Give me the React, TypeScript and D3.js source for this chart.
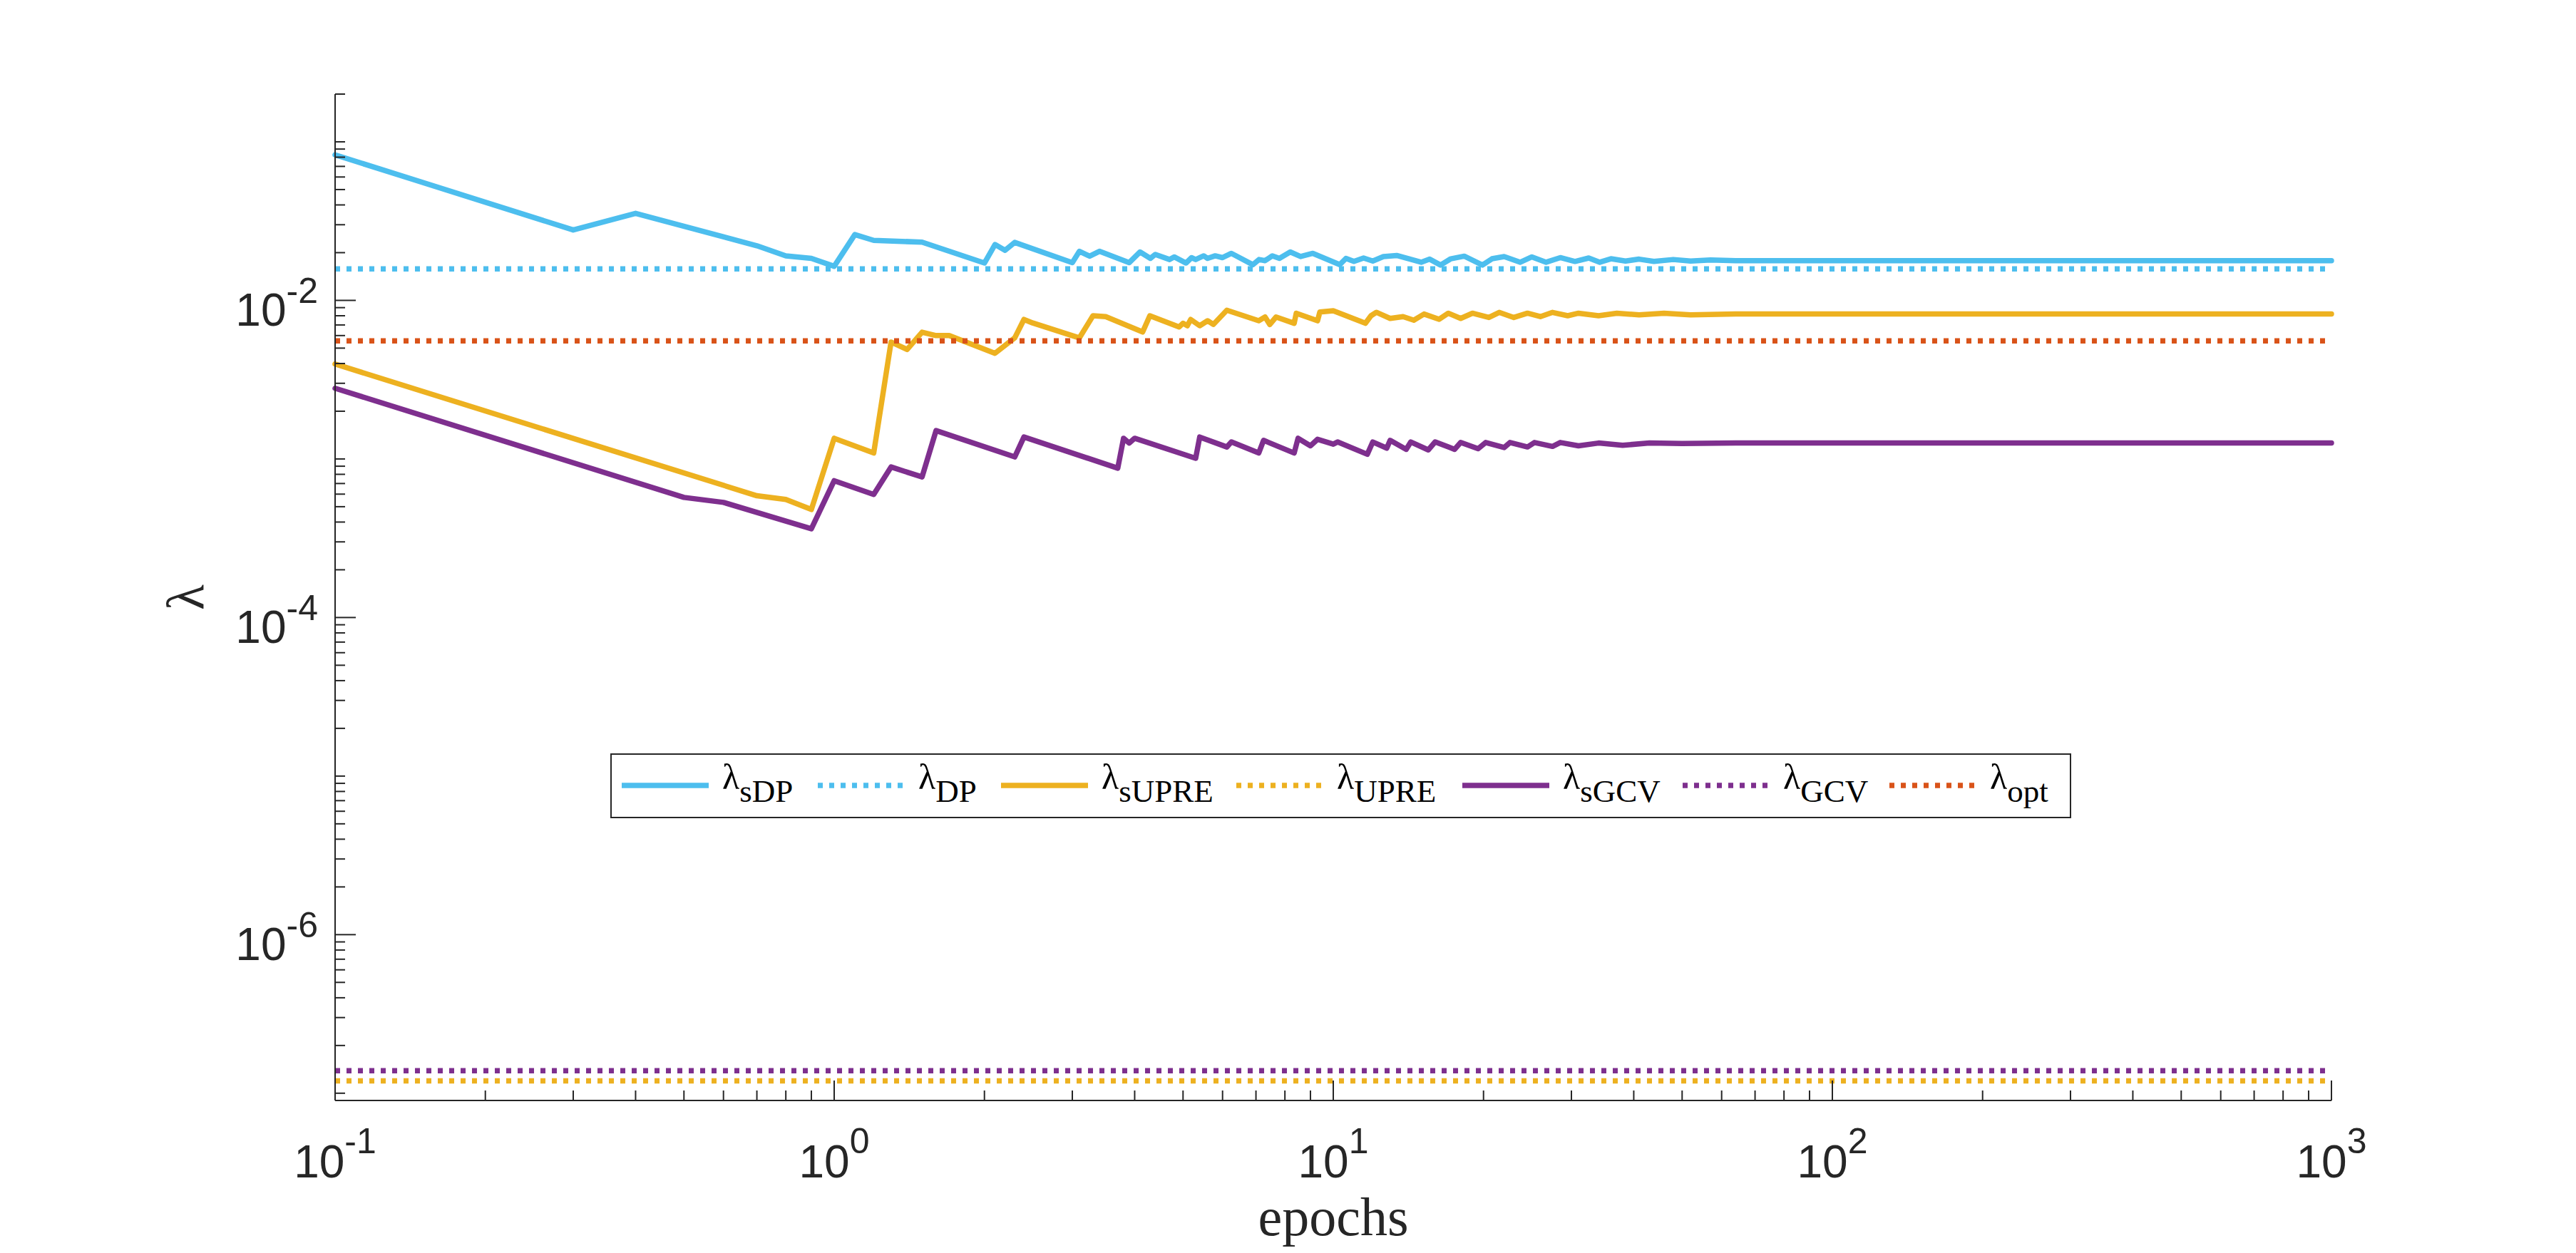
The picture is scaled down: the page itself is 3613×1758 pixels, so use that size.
import React from 'react';
import * as d3 from 'd3';

const W = 3613;
const H = 1758;

// lambda_sDP (solid, blue)
const sdpEpochs = [0.1, 0.3, 0.4, 0.7, 0.8, 0.9, 1.0, 1.1, 1.2, 1.5, 2.0, 2.1, 2.2, 2.3, 3.0, 3.1, 3.25, 3.4, 3.9, 4.1, 4.3, 4.4, 4.7, 4.8, 5.07, 5.2, 5.3, 5.5, 5.6, 5.8, 6.0, 6.25, 6.9, 7.1, 7.3, 7.55, 7.8, 8.2, 8.6, 9.1, 10.3, 10.6, 11.0, 11.5, 12.0, 12.6, 13.4, 15.0, 15.6, 16.4, 17.2, 18.3, 19.9, 20.8, 22.0, 23.7, 25.0, 26.7, 28.5, 30.5, 32.5, 34.2, 36, 38.5, 41, 43.9, 48, 52, 57, 64, 100, 1000];
const sdpValues = [0.0828, 0.0278, 0.0354, 0.0221, 0.0191, 0.0184, 0.0164, 0.026, 0.0239, 0.0233, 0.0172, 0.0225, 0.0207, 0.0232, 0.0173, 0.0204, 0.019, 0.0204, 0.0173, 0.0202, 0.0184, 0.0195, 0.0181, 0.0188, 0.0172, 0.0186, 0.0181, 0.0191, 0.0184, 0.0191, 0.0186, 0.0198, 0.0168, 0.0181, 0.0178, 0.0191, 0.0184, 0.0202, 0.0189, 0.0198, 0.0168, 0.0184, 0.0176, 0.0185, 0.0177, 0.0189, 0.0192, 0.0174, 0.0182, 0.0167, 0.0183, 0.019, 0.0167, 0.0183, 0.0189, 0.0174, 0.0188, 0.0174, 0.0186, 0.0176, 0.0185, 0.0174, 0.0183, 0.0177, 0.0182, 0.0176, 0.0181, 0.0177, 0.018, 0.0178, 0.0178, 0.0178];

// lambda_sUPRE (solid, yellow)
const supreEpochs = [0.1, 0.7, 0.8, 0.9, 1.0, 1.2, 1.3, 1.4, 1.5, 1.6, 1.7, 2.1, 2.3, 2.4, 2.5, 3.1, 3.3, 3.5, 4.15, 4.29, 4.91, 5.0, 5.1, 5.18, 5.4, 5.6, 5.75, 6.12, 7.09, 7.3, 7.46, 7.68, 8.35, 8.43, 9.3, 9.4, 10.0, 11.6, 11.9, 12.2, 13.0, 13.8, 14.5, 15.2, 16.3, 17.0, 18.0, 19.0, 20.5, 21.5, 23.0, 24.5, 26.0, 27.5, 29.5, 31, 34, 37, 41, 46, 52, 64, 100, 1000];
const supreValues = [0.00397, 0.000586, 0.000555, 0.00048, 0.00135, 0.00109, 0.00546, 0.0049, 0.0063, 0.006, 0.006, 0.00464, 0.0058, 0.00758, 0.0072, 0.0058, 0.008, 0.0079, 0.00632, 0.008, 0.0068, 0.00717, 0.00692, 0.00758, 0.00692, 0.00744, 0.00705, 0.00867, 0.00744, 0.00786, 0.00705, 0.00786, 0.00717, 0.0083, 0.00744, 0.00845, 0.0086, 0.00717, 0.008, 0.00841, 0.0077, 0.0079, 0.0075, 0.0082, 0.0076, 0.0083, 0.0077, 0.0083, 0.0078, 0.0084, 0.0078, 0.0083, 0.0079, 0.0084, 0.008, 0.0083, 0.008, 0.0083, 0.0081, 0.0083, 0.0081, 0.0082, 0.0082, 0.0082];

// lambda_sGCV (solid, purple)
const sgcvEpochs = [0.1, 0.5, 0.6, 0.9, 1.0, 1.2, 1.3, 1.5, 1.6, 2.3, 2.4, 3.7, 3.8, 3.9, 4.0, 5.3, 5.4, 6.12, 6.25, 7.09, 7.25, 8.35, 8.5, 9.0, 9.3, 10.0, 10.2, 11.7, 12.0, 12.8, 13.0, 14.0, 14.3, 15.5, 16.0, 17.5, 18.0, 19.5, 20.2, 22.0, 22.6, 24.5, 25.3, 27.5, 28.5, 31, 34, 38, 43, 50, 64, 100, 1000];
const sgcvValues = [0.00279, 0.000572, 0.000532, 0.000363, 0.000729, 0.000597, 0.00089, 0.00077, 0.00151, 0.00103, 0.001375, 0.000875, 0.00135, 0.00126, 0.00135, 0.00101, 0.001375, 0.00119, 0.00128, 0.00109, 0.00131, 0.00109, 0.00135, 0.00121, 0.00133, 0.00124, 0.00128, 0.00107, 0.00128, 0.00117, 0.00131, 0.00115, 0.00128, 0.00114, 0.00128, 0.00115, 0.00127, 0.00116, 0.00127, 0.00118, 0.00127, 0.00119, 0.00127, 0.0012, 0.00127, 0.00121, 0.00126, 0.00122, 0.00126, 0.00125, 0.00126, 0.00126, 0.00126];

// constant reference values (dotted)
const dpValue = 0.0158;
const upreValue = 1.196e-7;
const gcvValue = 1.388e-7;
const optValue = 0.00556;

const epochRange = [0.1, 1000];
const xTickExps = [-1, 0, 1, 2, 3];
const yTickExps = [-6, -4, -2];

const BLUE = '#4DBEEE';
const YELLOW = '#EDB120';
const PURPLE = '#7E2F8E';
const ORANGE = '#D95319';
const AX = '#262626';

const zip = (xs: number[], ys: number[]) => xs.map((e, i) => [e, ys[i]] as [number, number]);

export default function App() {
  const left = 470, right = 3270, top = 132, bottom = 1544;
  const x = d3.scaleLog().domain([0.1, 1000]).range([left, right]);
  const y = d3.scaleLog().domain([9e-8, 0.2]).range([bottom, top]);
  const line = d3.line<[number, number]>().x(d => x(d[0])).y(d => y(d[1]));

  const dotted = '7 9';
  const lw = 7.5;

  const series = [
    { key: 'sDP', data: zip(sdpEpochs, sdpValues), color: BLUE, dash: null },
    { key: 'DP', data: epochRange.map(e => [e, dpValue] as [number, number]), color: BLUE, dash: dotted },
    { key: 'sUPRE', data: zip(supreEpochs, supreValues), color: YELLOW, dash: null },
    { key: 'UPRE', data: epochRange.map(e => [e, upreValue] as [number, number]), color: YELLOW, dash: dotted },
    { key: 'sGCV', data: zip(sgcvEpochs, sgcvValues), color: PURPLE, dash: null },
    { key: 'GCV', data: epochRange.map(e => [e, gcvValue] as [number, number]), color: PURPLE, dash: dotted },
    { key: 'opt', data: epochRange.map(e => [e, optValue] as [number, number]), color: ORANGE, dash: dotted },
  ];

  const xMinor: number[] = [];
  for (let k = -1; k < 3; k++) for (let m = 2; m <= 9; m++) xMinor.push(m * Math.pow(10, k));
  const yMinor: number[] = [];
  for (let k = -8; k <= -1; k++) for (let m = 1; m <= 9; m++) {
    const v = m * Math.pow(10, k);
    if (v >= 9e-8 && v <= 0.2 && !(m === 1 && yTickExps.includes(k))) yMinor.push(v);
  }

  const legendX = [872, 1147, 1404, 1734, 2051, 2360, 2650];
  const legY = 1102;

  return (
    <svg width={W} height={H} style={{ position: 'absolute', left: 0, top: 0, background: '#fff' }}>
      <rect x={0} y={0} width={W} height={H} fill="#fff" />

      {/* series */}
      {series.map(s => (
        <path key={s.key} d={line(s.data) || ''} fill="none" stroke={s.color} strokeWidth={lw}
          strokeDasharray={s.dash || undefined} strokeLinejoin="round" strokeLinecap={s.dash ? 'butt' : 'round'} />
      ))}

      {/* axes */}
      <g stroke={AX} strokeWidth={2}>
        <line x1={left} y1={top} x2={left} y2={bottom} />
        <line x1={left} y1={bottom} x2={right} y2={bottom} />
        {xTickExps.map(k => (
          <line key={'xM' + k} x1={x(Math.pow(10, k))} x2={x(Math.pow(10, k))} y1={bottom} y2={bottom - 28} />
        ))}
        {xMinor.map(v => (
          <line key={'xm' + v} x1={x(v)} x2={x(v)} y1={bottom} y2={bottom - 14} />
        ))}
        {yTickExps.map(k => (
          <line key={'yM' + k} x1={left} x2={left + 29} y1={y(Math.pow(10, k))} y2={y(Math.pow(10, k))} />
        ))}
        {yMinor.map(v => (
          <line key={'ym' + v} x1={left} x2={left + 14} y1={y(v)} y2={y(v)} />
        ))}
      </g>

      {/* tick labels */}
      <g fill={AX} fontFamily="'Liberation Sans', Arial, sans-serif">
        {xTickExps.map(k => (
          <text key={'xl' + k} x={x(Math.pow(10, k))} y={1652} textAnchor="middle">
            <tspan fontSize={64}>10</tspan>
            <tspan fontSize={50} dy={-34}>{k}</tspan>
          </text>
        ))}
        {yTickExps.map(k => (
          <text key={'yl' + k} x={446} y={y(Math.pow(10, k)) + 36} textAnchor="end">
            <tspan fontSize={64}>10</tspan>
            <tspan fontSize={50} dy={-32}>{k}</tspan>
          </text>
        ))}
      </g>

      {/* axis labels */}
      <text x={(left + right) / 2} y={1733} textAnchor="middle" fontFamily="'Liberation Serif', serif" fontSize={76} fill={AX}>epochs</text>
      <text transform={`translate(285,${(top + bottom) / 2}) rotate(-90)`} textAnchor="middle"
        fontFamily="'Liberation Serif', serif" fontSize={74} fill={AX}>λ</text>

      {/* legend */}
      <rect x={857} y={1058} width={2047} height={89} fill="#fff" stroke={AX} strokeWidth={2} />
      {series.map((s, i) => (
        <g key={'lg' + s.key}>
          <line x1={legendX[i]} x2={legendX[i] + 122} y1={legY} y2={legY} stroke={s.color} strokeWidth={lw}
            strokeDasharray={s.dash || undefined} />
          <text x={legendX[i] + 141} y={1107} fontFamily="'Liberation Serif', serif" fill="#000">
            <tspan fontSize={50}>λ</tspan>
            <tspan fontSize={45} dy={18}>{s.key}</tspan>
          </text>
        </g>
      ))}
    </svg>
  );
}
